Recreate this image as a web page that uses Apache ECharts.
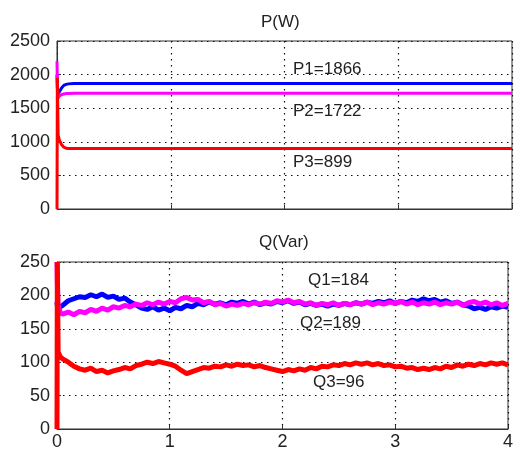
<!DOCTYPE html>
<html>
<head>
<meta charset="utf-8">
<script src="https://cdn.jsdelivr.net/npm/echarts@6/dist/echarts.min.js"></script>
<style>html,body{margin:0;padding:0;background:#fff;}#c{width:516px;height:453px;}</style>
</head>
<body>
<div id="c"></div>
<script>
// ---- Top plot: P(W) ----
const pTime = [0, 0.003, 0.01, 0.02, 0.04, 0.06, 0.08, 0.10, 0.15, 0.5, 1.0, 1.5, 2.0, 2.5, 3.0, 3.5, 4.0];
const p1 = [2000, 1800, 1700, 1740, 1800, 1840, 1855, 1862, 1866, 1866, 1866, 1866, 1866, 1866, 1866, 1866, 1866];
const p2 = [2200, 1900, 1650, 1680, 1700, 1712, 1718, 1720, 1722, 1722, 1722, 1722, 1722, 1722, 1722, 1722, 1722];
const p3 = [0, 1950, 1100, 1030, 960, 920, 905, 900, 899, 899, 899, 899, 899, 899, 899, 899, 899];

// ---- Bottom plot: Q(Var) ----
const qTime = [0, 0.003, 0.01, 0.03,
  0.05, 0.10, 0.15, 0.20, 0.25, 0.30, 0.35, 0.40, 0.45, 0.50,
  0.55, 0.60, 0.65, 0.70, 0.75, 0.80, 0.85, 0.90, 0.95, 1.00,
  1.05, 1.10, 1.15, 1.20, 1.25, 1.30, 1.35, 1.40, 1.45, 1.50,
  1.55, 1.60, 1.65, 1.70, 1.75, 1.80, 1.85, 1.90, 1.95, 2.00,
  2.05, 2.10, 2.15, 2.20, 2.25, 2.30, 2.35, 2.40, 2.45, 2.50,
  2.55, 2.60, 2.65, 2.70, 2.75, 2.80, 2.85, 2.90, 2.95, 3.00,
  3.05, 3.10, 3.15, 3.20, 3.25, 3.30, 3.35, 3.40, 3.45, 3.50,
  3.55, 3.60, 3.65, 3.70, 3.75, 3.80, 3.85, 3.90, 3.95, 4.00];
const q1 = [190, 185, 180, 183,
  185, 192, 195, 198, 197, 201, 198, 202, 197, 199,
  194, 196, 190, 186, 181, 179, 183, 178, 181, 177,
  182, 180, 185, 183, 188, 186, 190, 187, 189, 186,
  190, 188, 191, 187, 190, 186, 189, 187, 191, 189,
  192, 188, 190, 186, 188, 185, 187, 184, 187, 185,
  188, 186, 189, 187, 190, 188, 191, 189, 192, 188,
  191, 189, 193, 191, 195, 192, 194, 190, 192, 188,
  190, 186, 184, 180, 182, 179, 183, 181, 184, 182];
const q2 = [250, 220, 185, 174,
  172, 175, 171, 176, 174, 179, 176, 181, 178, 183,
  181, 185, 183, 187, 185, 189, 186, 190, 187, 191,
  189, 195, 197, 193, 194, 189, 191, 186, 188, 184,
  187, 185, 188, 186, 189, 187, 190, 188, 192, 190,
  193, 189, 191, 187, 189, 185, 188, 186, 189, 185,
  188, 186, 189, 187, 190, 186, 189, 187, 190, 188,
  191, 187, 190, 186, 189, 187, 190, 186, 189, 187,
  190, 185, 189, 191, 187, 190, 186, 189, 185, 188];
const q3 = [0, 250, 115, 108,
  105, 100, 94, 90, 88, 91, 86, 88, 84, 87,
  89, 92, 90, 95, 97, 100, 98, 101, 99, 97,
  94, 88, 83, 86, 89, 92, 91, 94, 93, 96,
  94, 97, 95, 96, 93, 95, 92, 90, 88, 86,
  89, 87, 90, 88, 92, 90, 94, 93, 96, 95,
  98, 96, 99, 97, 99, 96, 98, 95, 96, 93,
  94, 91, 92, 89, 91, 89, 92, 90, 94, 92,
  96, 94, 97, 95, 98, 96, 99, 97, 99, 96];

const xTicks = [0, 1, 2, 3, 4];
const pTicks = [0, 500, 1000, 1500, 2000, 2500];
const qTicks = [0, 50, 100, 150, 200, 250];

const zip = (t, v) => t.map((x, i) => [x, v[i]]);

const FONT = '"Liberation Sans", Arial, sans-serif';
const gridLine = { show: true, lineStyle: { color: '#111', type: [1.5, 4.5], width: 1.2 } };

function xAxis(idx, showLabels) {
  return {
    type: 'value', gridIndex: idx, min: 0, max: 4, interval: 1,
    axisLine: { show: true, lineStyle: { color: '#333' } },
    axisTick: { show: true, inside: true, length: 4, lineStyle: { color: '#333' } },
    axisLabel: { show: showLabels, color: '#222', fontSize: 18, fontFamily: FONT, margin: 4,
      formatter: v => String(v) },
    splitLine: gridLine
  };
}
function yAxis(idx, max, interval) {
  return {
    type: 'value', gridIndex: idx, min: 0, max: max, interval: interval,
    axisLine: { show: true, lineStyle: { color: '#333' } },
    axisTick: { show: true, inside: true, length: 4, lineStyle: { color: '#333' } },
    axisLabel: { color: '#222', fontSize: 18, fontFamily: FONT, margin: 7,
      formatter: v => String(v) },
    splitLine: gridLine
  };
}
function line(name, xi, t, v, color, w) {
  return {
    name, type: 'line', xAxisIndex: xi, yAxisIndex: xi, data: zip(t, v),
    showSymbol: false, symbol: 'none', animation: false,
    lineStyle: { color, width: w }, itemStyle: { color }
  };
}

const chart = echarts.init(document.getElementById('c'), null, { renderer: 'canvas' });
const txt = (text, x, y, size) => ({
  type: 'text', left: x, top: y,
  style: { text, fill: '#222', font: `${size}px ${FONT}` }
});
chart.setOption({
  backgroundColor: '#fff',
  animation: false,
  grid: [
    { left: 57, right: 4, top: 41, height: 168, show: true, borderColor: '#333', borderWidth: 1, backgroundColor: '#fff' },
    { left: 57, right: 4, top: 262, height: 167, show: true, borderColor: '#333', borderWidth: 1, backgroundColor: '#fff' }
  ],
  xAxis: [xAxis(0, false), xAxis(1, true)],
  yAxis: [yAxis(0, 2500, 500), yAxis(1, 250, 50)],
  series: [
    line('P1', 0, pTime, p1, '#0000ff', 3),
    line('P2', 0, pTime, p2, '#ff00ff', 3),
    line('P3', 0, pTime, p3, '#ff0000', 3),
    line('Q1', 1, qTime, q1, '#0000ff', 5),
    line('Q2', 1, qTime, q2, '#ff00ff', 5),
    line('Q3', 1, qTime, q3, '#ff0000', 5)
  ],
  graphic: [
    txt('P(W)', 261, 14, 17),
    txt('Q(Var)', 259, 234, 17),
    txt('P1=1866', 293, 61, 17),
    txt('P2=1722', 293, 103, 17),
    txt('P3=899', 293, 154, 17),
    txt('Q1=184', 308, 272, 17),
    txt('Q2=189', 300, 315, 17),
    txt('Q3=96', 313, 374, 17)
  ]
});
</script>
</body>
</html>
